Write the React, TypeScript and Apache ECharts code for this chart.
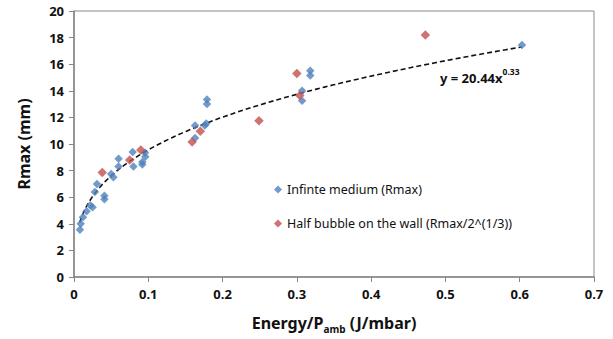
import React, { useEffect, useRef } from "react";
import * as echarts from "echarts";

const infiniteX = [0.008, 0.009, 0.012, 0.017, 0.022, 0.025, 0.028, 0.031, 0.041, 0.041, 0.050, 0.053, 0.060, 0.060, 0.079, 0.080, 0.0955, 0.096, 0.092, 0.092, 0.163, 0.163, 0.176, 0.178, 0.179, 0.179, 0.307, 0.307, 0.318, 0.318, 0.603];
const infiniteY = [3.55, 4.0, 4.5, 4.95, 5.4, 5.25, 6.4, 7.0, 6.1, 5.85, 7.75, 7.5, 8.9, 8.3, 9.4, 8.3, 9.35, 9.05, 8.65, 8.45, 11.4, 10.45, 11.4, 11.55, 13.35, 13.0, 14.0, 13.25, 15.5, 15.15, 17.45];

const halfX = [0.038, 0.075, 0.090, 0.159, 0.170, 0.249, 0.300, 0.304, 0.473];
const halfY = [7.85, 8.8, 9.55, 10.15, 10.95, 11.75, 15.3, 13.65, 18.2];

const fitA = 20.44;
const fitB = 0.33;
const fitFrom = 0.0077;
const fitTo = 0.603;

const seriesNames = ["Infinte medium (Rmax)", "Half bubble on the wall (Rmax/2^(1/3))"];

export default function App() {
  const ref = useRef<HTMLDivElement>(null);
  useEffect(() => {
    const chart = echarts.init(ref.current!, null, { renderer: "svg" });
    const trend: number[][] = [];
    const n = 120;
    for (let i = 0; i <= n; i++) {
      const x = fitFrom * Math.pow(fitTo / fitFrom, i / n);
      trend.push([x, fitA * Math.pow(x, fitB)]);
    }
    const font = "Noto Sans";
    chart.setOption({
      animation: false,
      backgroundColor: "#fff",
      textStyle: { fontFamily: font },
      grid: {
        left: 74,
        right: 19,
        top: 11,
        bottom: 57,
        show: true,
        borderColor: "#8a8a8a",
        borderWidth: 1,
      },
      legend: {
        orient: "vertical",
        left: 269,
        top: 178,
        itemGap: 21,
        icon: "diamond",
        itemWidth: 8,
        itemHeight: 8,
        textStyle: { fontSize: 12.5, color: "#111", fontFamily: font },
        data: seriesNames,
      },
      xAxis: {
        type: "value",
        min: 0,
        max: 0.7,
        interval: 0.1,
        splitLine: { show: false },
        axisLine: { show: true, lineStyle: { color: "#868686", width: 1.5 } },
        axisTick: { show: true, length: 5, lineStyle: { color: "#868686" } },
        axisLabel: {
          fontSize: 13,
          fontWeight: "bold",
          color: "#111",
          margin: 10,
          formatter: (v: number) => (Math.round(v * 10) / 10).toString(),
        },
        name: "{b|Energy/P}{s|amb}{b| (J/mbar)}",
        nameLocation: "middle",
        nameGap: 34,
        nameTextStyle: {
          rich: {
            b: { fontSize: 16, fontWeight: "bold", color: "#111", fontFamily: font, lineHeight: 20, verticalAlign: "bottom" },
            s: { fontSize: 10, fontWeight: "bold", color: "#111", fontFamily: font, lineHeight: 20, verticalAlign: "bottom", padding: [0, 0, -3, 0] },
          },
        },
      },
      yAxis: {
        type: "value",
        min: 0,
        max: 20,
        interval: 2,
        splitLine: { show: false },
        axisLine: { show: true, lineStyle: { color: "#868686", width: 1.5 } },
        axisTick: { show: true, length: 5, lineStyle: { color: "#868686" } },
        axisLabel: { fontSize: 13, fontWeight: "bold", color: "#111", margin: 10 },
        name: "Rmax (mm)",
        nameLocation: "middle",
        nameGap: 42,
        nameTextStyle: { fontSize: 16, fontWeight: "bold", color: "#111" },
      },
      graphic: [
        {
          type: "text",
          left: 440,
          top: 67,
          style: {
            text: "{a|y = 20.44x}{s|0.33}",
            rich: {
              a: { fontSize: 13, fontWeight: "bold", fill: "#111", fontFamily: font, lineHeight: 17, verticalAlign: "bottom" },
              s: { fontSize: 8.5, fontWeight: "bold", fill: "#111", fontFamily: font, lineHeight: 17, verticalAlign: "top", padding: [0, 0, 5, 0] },
            },
          },
        },
      ],
      series: [
        {
          name: "trend",
          type: "line",
          data: trend,
          showSymbol: false,
          symbol: "none",
          smooth: false,
          lineStyle: { color: "#111", width: 1.6, type: [5, 3] },
          z: 1,
          silent: true,
        },
        {
          name: seriesNames[0],
          type: "scatter",
          symbol: "diamond",
          symbolSize: 8.5,
          itemStyle: { color: "#4F81BD" },
          data: infiniteX.map((x, i) => [x, infiniteY[i]]),
          z: 3,
        },
        {
          name: seriesNames[1],
          type: "scatter",
          symbol: "diamond",
          symbolSize: 9.5,
          itemStyle: { color: "#C0504D" },
          data: halfX.map((x, i) => [x, halfY[i]]),
          z: 4,
        },
      ],
    });
    return () => chart.dispose();
  }, []);
  return <div ref={ref} style={{ position: "absolute", left: 0, top: 0, width: 613, height: 339 }} />;
}
